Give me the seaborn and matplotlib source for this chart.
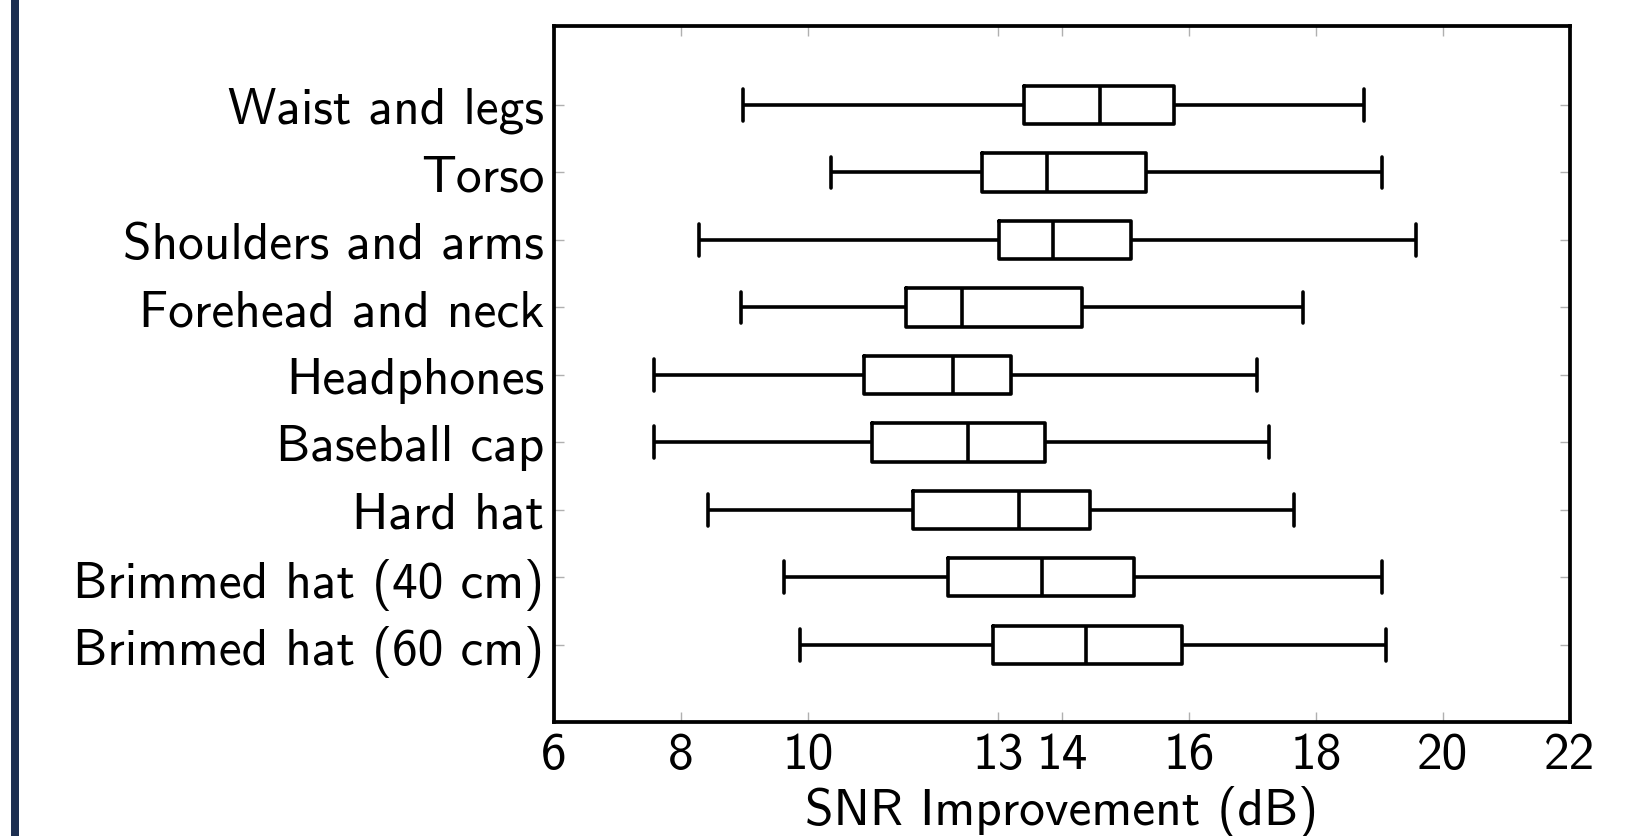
import matplotlib
matplotlib.use("Agg")
import matplotlib.pyplot as plt
import pandas as pd
import seaborn as sns
from matplotlib.patches import Rectangle

FIGSIZE = [16.36, 8.37]

categories = [
    "Waist and legs",
    "Torso",
    "Shoulders and arms",
    "Forehead and neck",
    "Headphones",
    "Baseball cap",
    "Hard hat",
    "Brimmed hat (40 cm)",
    "Brimmed hat (60 cm)",
]
whisker_low = [8.97, 10.37, 8.29, 8.94, 7.58, 7.58, 8.43, 9.63, 9.88]
q1 = [13.41, 12.74, 13.01, 11.54, 10.89, 11.01, 11.66, 12.21, 12.92]
median = [14.60, 13.76, 13.86, 12.42, 12.29, 12.52, 13.32, 13.69, 14.38]
q3 = [15.77, 15.33, 15.08, 14.32, 13.20, 13.73, 14.44, 15.13, 15.89]
whisker_high = [18.75, 19.04, 19.58, 17.80, 17.07, 17.26, 17.65, 19.04, 19.11]

x_ticks = [6, 8, 10, 13, 14, 16, 18, 20, 22]


def build_frame():
    rows = []
    for i, cat in enumerate(categories):
        for v in (whisker_low[i], q1[i], median[i], q3[i], whisker_high[i]):
            rows.append({"part": cat, "snr": v})
    return pd.DataFrame(rows)


def main():
    sns.set_style("ticks")
    plt.rcParams["font.family"] = ["cmss10", "DejaVu Sans"]
    plt.rcParams["axes.unicode_minus"] = False
    plt.rcParams["text.color"] = "black"
    plt.rcParams["axes.labelcolor"] = "black"

    df = build_frame()

    fig = plt.figure(figsize=FIGSIZE, dpi=100)
    ax = fig.add_axes([0.3386, 0.1358, 0.6210, 0.8316])

    sns.boxplot(data=df, x="snr", y="part", order=categories, orient="h",
                fill=False, color="black", linecolor="black", linewidth=2.6,
                width=0.57, whis=(0, 100), capwidths=0.47, ax=ax)

    ax.set_xlim(6, 22)
    ax.set_ylim(8 + 1.15, -1.166)
    ax.set_xticks(x_ticks)
    ax.set_xticklabels([str(t) for t in x_ticks])
    ax.set_xlabel("SNR Improvement (dB)", fontsize=37, labelpad=5,
                  color="black")
    ax.set_ylabel("")

    ax.tick_params(axis="both", direction="in", length=7, width=1,
                   color="#b0b0b0", labelcolor="black", top=True, right=True,
                   pad=7, labelsize=37)
    for spine in ax.spines.values():
        spine.set_visible(True)
        spine.set_linewidth(2.7)
        spine.set_color("black")

    # navy bar at the left edge of the slide
    fig.patches.append(Rectangle((11 / 1636, 0), 8 / 1636, 1,
                                 transform=fig.transFigure,
                                 facecolor="#1c2e50", edgecolor="none"))

    fig.savefig("out.png", dpi=100)


if __name__ == "__main__":
    main()
